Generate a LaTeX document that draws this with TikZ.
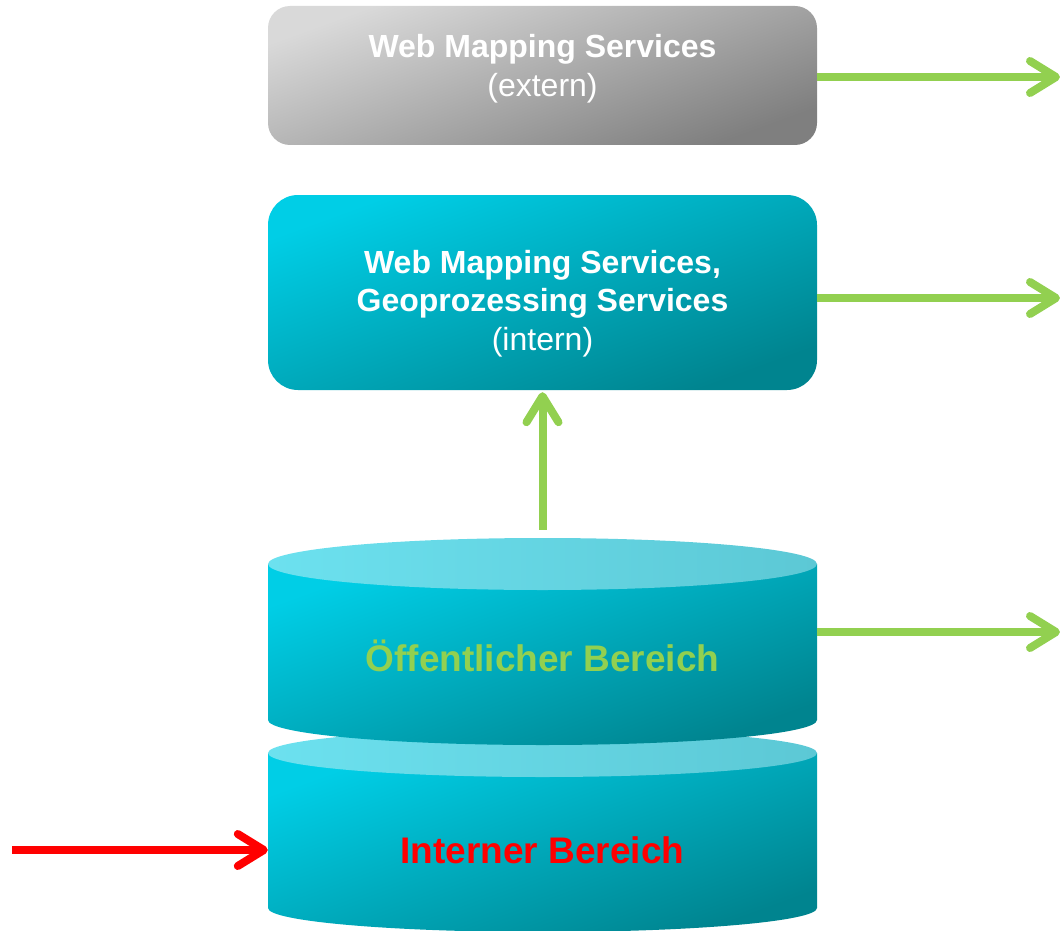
\documentclass[tikz,border=0pt]{standalone}
\usepackage{fontspec}
\setmainfont{Liberation Sans}
\usetikzlibrary{arrows.meta, positioning}

\definecolor{boxgrayA}{HTML}{D9D9D9}
\definecolor{boxgrayB}{HTML}{7F7F7F}
\definecolor{tealA}{HTML}{00CEE6}
\definecolor{tealB}{HTML}{00848F}
\definecolor{lidA}{HTML}{6CE1EF}
\definecolor{lidB}{HTML}{5CC8D5}
\definecolor{flowgreen}{HTML}{92D050}

\begin{document}
\begin{tikzpicture} [
    x=1pt, y=-1pt,
    service/.style = {rectangle, minimum width=549pt, inner sep=0pt},
    gray service/.style = {service, minimum height=139pt, rounded corners=22pt,
        top color=boxgrayA, bottom color=boxgrayB, shading angle=20},
    teal service/.style = {service, minimum height=195pt, rounded corners=30pt,
        top color=tealA, bottom color=tealB, shading angle=20},
    caption/.style = {text=white, align=center,
        font=\fontsize{32}{38.5}\selectfont},
    cylbody/.style = {top color=tealA, bottom color=tealB, shading angle=20},
    cyltop/.style = {left color=lidA, right color=lidB},
    cylnode/.style = {rectangle, minimum width=549pt, inner sep=0pt},
    area/.style = {font=\fontsize{37}{40}\selectfont\bfseries, anchor=base},
    flow/.style = {draw=flowgreen, line width=8pt,
        -{Straight Barb[length=26pt, width=32pt, round]}},
    inflow/.style = {flow, draw=red}]
    % \draw [help lines] (0,0) grid [step=100pt] (1060,931);
    \useasboundingbox (0,0) rectangle (1060,931);

    % services
    \node (wmsext) [gray service] at (542.5,75.5) {};
    \node (wmsextText) [caption, yshift=7pt] at (wmsext)
        {\textbf{Web Mapping Services}\\(extern)};
    \node (wmsint) [teal service] at (542.5,292.5) {};
    \node (wmsintText) [caption, yshift=-11pt] at (wmsint)
        {\textbf{Web Mapping Services,}\\\textbf{Geoprozessing Services}\\(intern)};

    % internal storage (behind)
    \shade [cylbody] (268,753) -- (268,908)
        arc [start angle=180, end angle=0, x radius=274.5, y radius=24]
        -- (817,753) -- cycle;
    \shade [cyltop] (542.5,753) ellipse [x radius=274.5, y radius=24];
    \node (intern) [cylnode, minimum height=155pt] at (542.5,830.5) {};
    \node (internText) [area, text=red] at (542.5,863) {Interner Bereich};

    % public storage (front)
    \shade [cylbody] (268,564) -- (268,720)
        arc [start angle=180, end angle=0, x radius=274.5, y radius=25]
        -- (817,564) -- cycle;
    \shade [cyltop] (542.5,564) ellipse [x radius=274.5, y radius=26];
    \node (oeff) [cylnode, minimum height=156pt] at (542.5,642) {};
    \node (oeffText) [area, text=flowgreen] at (542.5,671) {Öffentlicher Bereich};

    % loose ends
    \coordinate (outA) at (1060,77);
    \coordinate (outB) at (1060,298);
    \coordinate (outC) at (1060,632);
    \coordinate (src) at (12,850);

    \draw [flow] (wmsext.east |- outA) -- (outA);
    \draw [flow] (wmsint.east |- outB) -- (outB);
    \draw [flow] (oeff.east |- outC) -- (outC);
    \draw [flow, shorten <=34pt, shorten >=2pt] (oeff.north) -- (wmsint.south);
    \draw [inflow] (src) -- (src -| intern.west);
\end{tikzpicture}
\end{document}
